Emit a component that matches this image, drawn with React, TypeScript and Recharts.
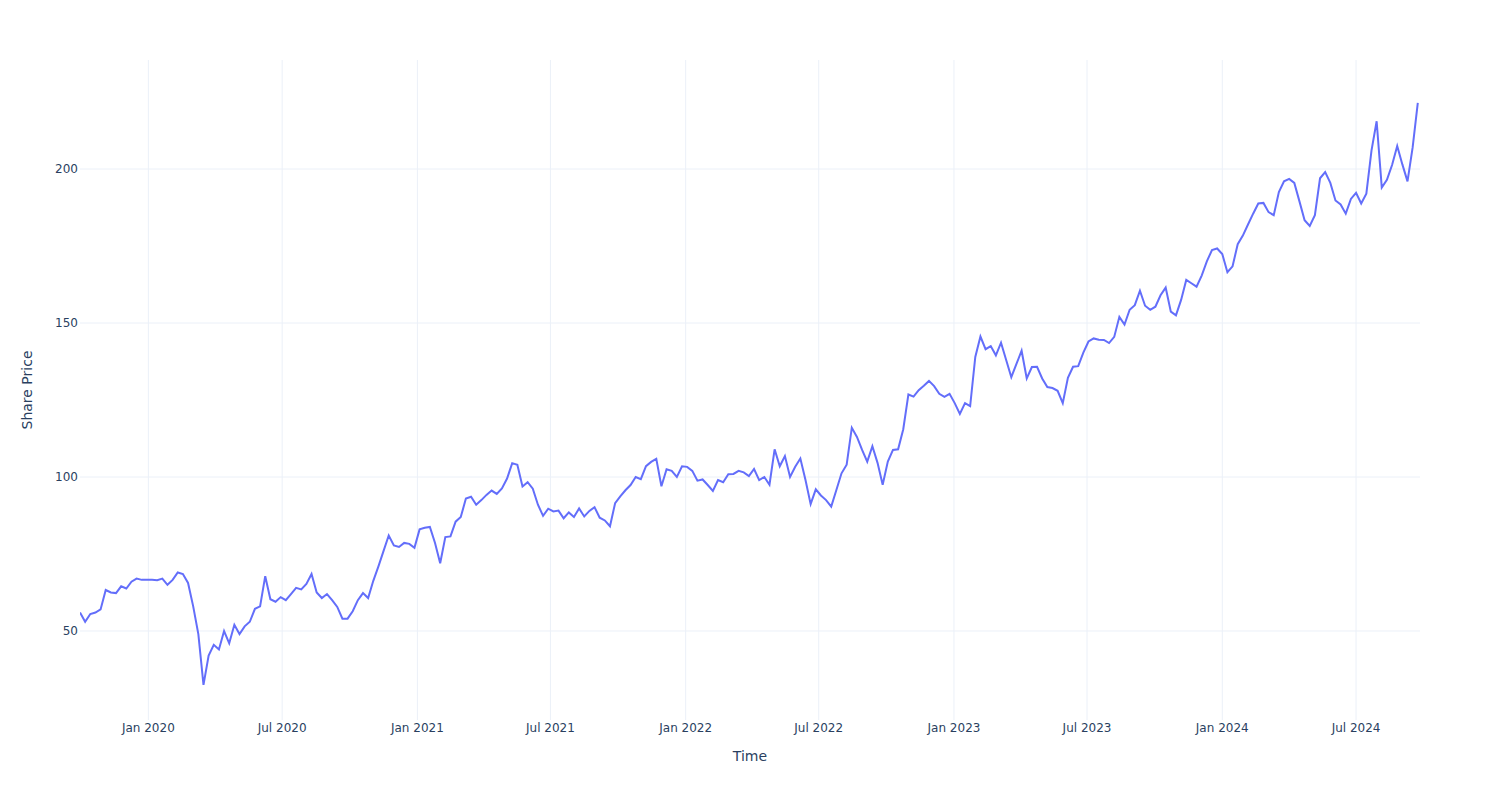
import React from 'react';
import { LineChart, Line, XAxis, YAxis, CartesianGrid, Label } from 'recharts';

// Weekly closing share prices, first week starting 2019-09-30
const prices2019 = [56, 53, 55.5, 56, 57, 63.3, 62.5, 62.3, 64.5, 63.8, 66, 67, 66.6, 66.6];
const prices2020 = [
  66.6, 66.5, 67, 65, 66.6, 69, 68.5, 65.6, 58, 49, 32.5, 42, 45.5, 44, 50, 46, 52, 49, 51.5, 53,
  57.2, 58, 67.8, 60.3, 59.5, 61, 60, 62, 64, 63.5, 65.3, 68.5, 62.5, 60.7, 62, 60, 57.8, 54, 54, 56.4,
  60, 62.3, 60.7, 66.3, 71, 76, 81, 77.8, 77.3, 78.6, 78.3, 77,
];
const prices2021 = [
  83, 83.5, 83.8, 78.6, 72, 80.5, 80.7, 85.5, 87, 93, 93.6, 91, 92.5, 94.2, 95.6, 94.5, 96.3, 99.5, 104.5, 104,
  96.9, 98.3, 96.2, 91, 87.4, 89.7, 88.8, 89.1, 86.6, 88.5, 87, 89.8, 87.2, 89, 90.2, 86.8, 85.9, 84, 91.5, 93.7,
  95.7, 97.4, 100, 99.3, 103.5, 104.9, 105.9, 97, 102.5, 102, 100, 103.5,
];
const prices2022 = [
  103.3, 102, 98.8, 99.2, 97.4, 95.5, 99, 98.3, 100.9, 101, 102, 101.5, 100.3, 102.6, 99, 100, 97.5, 109, 103.5, 106.8,
  100, 103.3, 106, 99, 91.2, 96, 94, 92.5, 90.4, 95.8, 101.2, 104, 116, 113, 108.8, 105, 110, 104.6, 97.5, 105,
  108.8, 109, 115.5, 126.8, 126.1, 128.2, 129.6, 131.2, 129.5, 127, 126, 127,
];
const prices2023 = [
  124, 120.5, 124, 123, 139, 145.6, 141.5, 142.5, 139.5, 143.6, 138, 132.4, 136.7, 141, 132, 135.7, 135.8, 132, 129.2, 128.9,
  128, 124, 132.2, 135.8, 136, 140.4, 144, 145, 144.6, 144.5, 143.5, 145.5, 152, 149.5, 154.3, 155.8, 160.5, 155.6, 154.3, 155.3,
  159, 161.5, 153.7, 152.5, 157.5, 164, 162.9, 161.8, 165.4, 170, 173.7, 174.2,
];
const prices2024 = [
  172.4, 166.5, 168.4, 175.6, 178.4, 182, 185.5, 188.8, 189, 186, 185, 192.5, 196, 196.8, 195.5, 189.5, 183.4, 181.5, 185, 197,
  199, 195.5, 189.8, 188.5, 185.5, 190.3, 192.3, 188.8, 192, 206, 215.5, 194, 196.5, 201.3, 207.5, 201.5, 196, 207, 221.5,
];

const startDate = Date.UTC(2019, 8, 30);
const endDate = Date.UTC(2024, 8, 26);
const WEEK_MS = 7 * 86400000;

const xTickDates = [
  Date.UTC(2020, 0, 1), Date.UTC(2020, 6, 1),
  Date.UTC(2021, 0, 1), Date.UTC(2021, 6, 1),
  Date.UTC(2022, 0, 1), Date.UTC(2022, 6, 1),
  Date.UTC(2023, 0, 1), Date.UTC(2023, 6, 1),
  Date.UTC(2024, 0, 1), Date.UTC(2024, 6, 1),
];
const yTicks = [50, 100, 150, 200];
const monthNames = ['Jan', 'Feb', 'Mar', 'Apr', 'May', 'Jun', 'Jul', 'Aug', 'Sep', 'Oct', 'Nov', 'Dec'];

const allPrices = [...prices2019, ...prices2020, ...prices2021, ...prices2022, ...prices2023, ...prices2024];
const data = allPrices.map((price, i) => ({ t: startDate + i * WEEK_MS, price }));

const fmtDate = (t: number) => {
  const d = new Date(t);
  return `${monthNames[d.getUTCMonth()]} ${d.getUTCFullYear()}`;
};

const FONT = '"DejaVu Sans", Verdana, sans-serif';
const TEXT_COLOR = '#2a3f5f';

const YTitle = (props: any) => {
  const vb = props.viewBox || {};
  const cx = vb.x + 27;
  const cy = vb.y + vb.height / 2;
  return (
    <text x={cx} y={cy} transform={`rotate(-90, ${cx}, ${cy})`} textAnchor="middle" dominantBaseline="central"
      fontFamily={FONT} fontSize={14} fill={TEXT_COLOR}>Share Price</text>
  );
};

const XTitle = (props: any) => {
  const vb = props.viewBox || {};
  const cx = vb.x + vb.width / 2;
  const cy = vb.y + 36;
  return (
    <text x={cx} y={cy} textAnchor="middle" dominantBaseline="central" fontFamily={FONT} fontSize={14} fill={TEXT_COLOR}>Time</text>
  );
};

const scaleOf = (axis: any) => {
  const s = axis && axis.scale;
  if (typeof s === 'function') return s;
  if (s && typeof s.map === 'function') return (v: number) => s.map(v);
  return null;
};

const horizontalGen = (props: any) => {
  const s = scaleOf(props.yAxis);
  return s ? yTicks.map((v) => s(v)) : [];
};
const verticalGen = (props: any) => {
  const s = scaleOf(props.xAxis);
  return s ? xTickDates.map((v) => s(v)) : [];
};

export default function App() {
  return (
    <div style={{ position: 'absolute', left: 0, top: 0, width: 1500, height: 800, background: '#fff' }}>
      <LineChart width={1500} height={800} data={data} margin={{ top: 60, right: 80, bottom: 20, left: 0 }}>
        <CartesianGrid
          stroke="#EBF0F8"
          strokeWidth={1}
          horizontalCoordinatesGenerator={horizontalGen}
          verticalCoordinatesGenerator={verticalGen}
        />
        <XAxis
          dataKey="t"
          type="number"
          domain={[startDate, endDate]}
          ticks={xTickDates}
          tickFormatter={fmtDate}
          axisLine={false}
          tickLine={false}
          tickSize={0}
          tickMargin={3}
          height={60}
          allowDataOverflow
          tick={{ fontFamily: FONT, fontSize: 12, fill: TEXT_COLOR }}
        >
          <Label content={<XTitle />} />
        </XAxis>
        <YAxis
          type="number"
          domain={[21.1, 235.4]}
          ticks={yTicks}
          axisLine={false}
          tickLine={false}
          tickSize={0}
          tickMargin={2}
          width={80}
          allowDataOverflow
          tick={{ fontFamily: FONT, fontSize: 12, fill: TEXT_COLOR }}
        >
          <Label content={<YTitle />} />
        </YAxis>
        <Line
          type="linear"
          dataKey="price"
          stroke="#636efa"
          strokeWidth={2}
          dot={false}
          isAnimationActive={false}
        />
      </LineChart>
    </div>
  );
}
